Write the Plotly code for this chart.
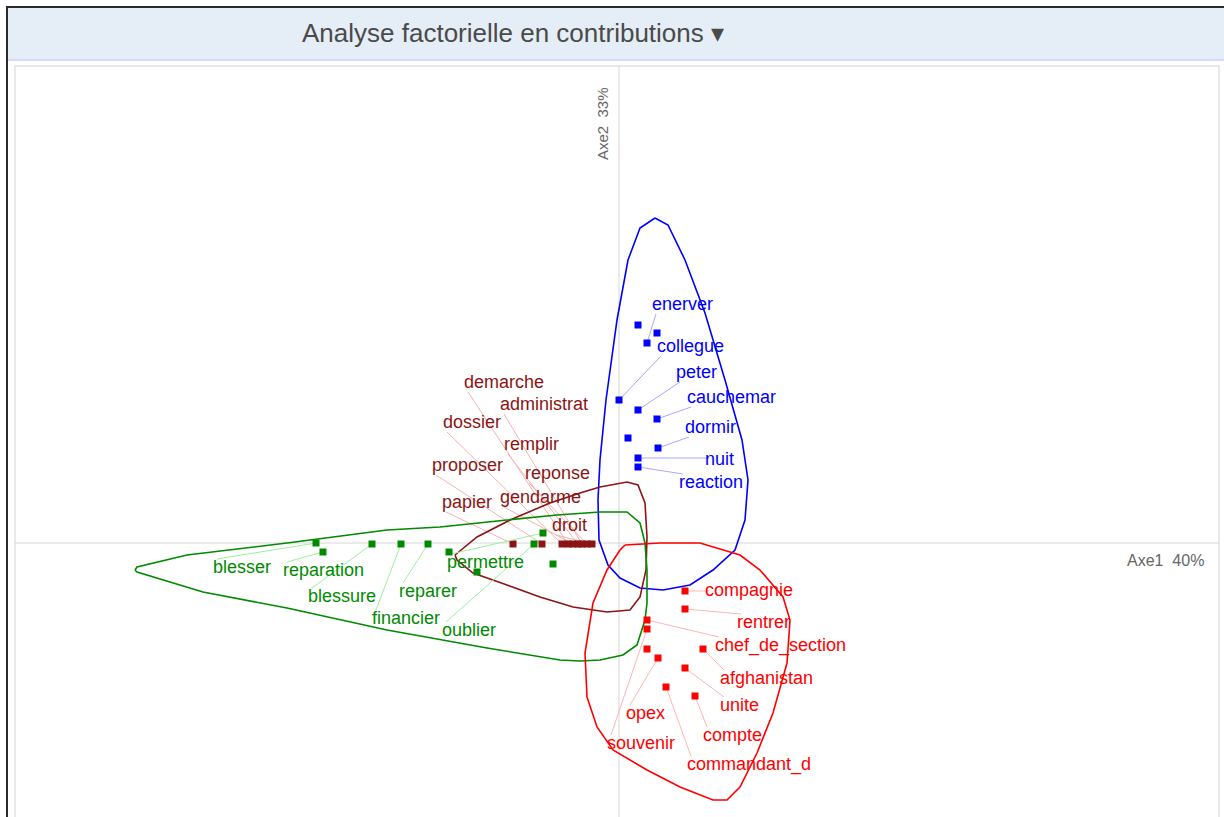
import plotly.graph_objects as go

# factor coordinates (Axe1, Axe2)
blue_words = ["enerver", "collegue", "peter", "cauchemar", "dormir", "nuit", "reaction"]
blue_x = [0.28, 0.00, 0.19, 0.38, 0.39, 0.19, 0.19]
blue_y = [2.00, 1.43, 1.33, 1.24, 0.95, 0.85, 0.76]
blue_extra_x = [0.19, 0.38, 0.09]
blue_extra_y = [2.18, 2.10, 1.05]
blue_lab_x = [0.33, 0.38, 0.57, 0.68, 0.66, 0.86, 0.60]
blue_lab_y = [2.38, 1.96, 1.70, 1.45, 1.15, 0.83, 0.60]
blue_hull_x = [0.36, 0.49, 0.66, 0.86, 1.06, 1.23, 1.29, 1.26, 1.16, 0.94, 0.71, 0.44, 0.21,
               0.01, -0.11, -0.20, -0.21, -0.19, -0.13, -0.02, 0.09, 0.21, 0.36]
blue_hull_y = [3.25, 3.18, 2.83, 2.30, 1.63, 1.03, 0.63, 0.23, -0.07, -0.27, -0.42, -0.47, -0.45,
               -0.35, -0.22, 0.03, 0.43, 0.83, 1.43, 2.23, 2.83, 3.15, 3.25]

brown_words = ["papier", "proposer", "dossier", "demarche", "gendarme", "remplir",
               "administrat", "reponse", "droit"]
brown_x = [-1.06, -0.77, -0.57, -0.51, -0.46, -0.41, -0.37, -0.32, -0.27]
brown_y = [-0.01] * 9
brown_lab_x = [-1.77, -1.87, -1.76, -1.55, -1.19, -1.15, -1.19, -0.94, -0.67]
brown_lab_y = [0.40, 0.77, 1.20, 1.60, 0.45, 0.98, 1.38, 0.69, 0.17]
brown_hull_x = [-1.64, -1.42, -1.09, -0.69, -0.39, -0.19, 0.08, 0.19, 0.26, 0.28, 0.27, 0.21,
                0.11, -0.12, -0.46, -0.79, -1.12, -1.46, -1.62, -1.64]
brown_hull_y = [-0.12, 0.06, 0.23, 0.40, 0.50, 0.56, 0.61, 0.58, 0.40, 0.06, -0.27, -0.54,
                -0.67, -0.69, -0.64, -0.54, -0.42, -0.30, -0.17, -0.12]

green_words = ["blesser", "reparation", "blessure", "financier", "reparer", "oublier", "permettre"]
green_x = [-3.03, -2.96, -2.47, -2.18, -1.91, -0.85, -0.76]
green_y = [0.00, -0.09, -0.01, -0.01, -0.01, -0.01, 0.10]
green_extra_x = [-1.70, -1.42, -0.66]
green_extra_y = [-0.09, -0.29, -0.21]
green_lab_x = [-4.06, -3.36, -3.11, -2.47, -2.20, -1.77, -1.72]
green_lab_y = [-0.25, -0.28, -0.54, -0.76, -0.49, -0.88, -0.20]
green_hull_x = [-4.84, -4.82, -4.32, -3.32, -2.32, -1.79, -1.12, -0.62, -0.19, 0.08, 0.21, 0.26,
                0.28, 0.28, 0.26, 0.18, 0.04, -0.19, -0.39, -0.59, -1.32, -2.32, -3.32, -4.16,
                -4.82, -4.84]
green_hull_y = [-0.27, -0.24, -0.12, 0.00, 0.13, 0.16, 0.23, 0.28, 0.31, 0.31, 0.20, 0.00,
                -0.27, -0.60, -0.77, -1.02, -1.12, -1.17, -1.18, -1.17, -1.05, -0.87, -0.65,
                -0.49, -0.29, -0.27]

red_words = ["compagnie", "rentrer", "chef_de_section", "afghanistan", "unite", "compte",
             "commandant_d", "opex", "souvenir"]
red_x = [0.66, 0.66, 0.28, 0.84, 0.66, 0.76, 0.47, 0.39, 0.28]
red_y = [-0.48, -0.66, -0.77, -1.06, -1.25, -1.53, -1.44, -1.15, -0.86]
red_extra_x = [0.28]
red_extra_y = [-1.06]
red_lab_x = [0.86, 1.18, 0.96, 1.01, 1.01, 0.84, 0.68, 0.07, -0.12]
red_lab_y = [-0.48, -0.80, -1.03, -1.36, -1.63, -1.93, -2.22, -1.71, -2.01]
red_hull_x = [0.06, 0.41, 0.81, 1.21, 1.41, 1.64, 1.71, 1.68, 1.54, 1.38, 1.21, 1.08, 0.94,
              0.61, 0.28, -0.06, -0.22, -0.32, -0.34, -0.26, -0.12, 0.01, 0.06]
red_hull_y = [-0.02, 0.00, 0.00, -0.12, -0.27, -0.54, -0.77, -1.20, -1.70, -2.10, -2.44,
              -2.57, -2.57, -2.44, -2.27, -2.07, -1.84, -1.54, -1.10, -0.60, -0.27, -0.07, -0.02]

FONT = "Liberation Sans"
W, H = 1224, 817
X_RANGE = [-6.19, 6.05]
Y_RANGE = [-2.74, 5.43]


def leader_segments(px, py, lx, ly, words):
    # leader goes from the point to the left edge of its label
    xs, ys = [], []
    for x, y, tx, ty in zip(px, py, lx, ly):
        ex = tx + 0.04
        ey = min(max(y, ty - 0.09), ty + 0.09)
        xs += [x, ex, None]
        ys += [y, ey, None]
    return xs, ys


groups = [
    (blue_words, blue_x, blue_y, blue_extra_x, blue_extra_y, blue_lab_x, blue_lab_y,
     blue_hull_x, blue_hull_y, "#0000ff", "#a8a8ff"),
    (brown_words, brown_x, brown_y, [], [], brown_lab_x, brown_lab_y,
     brown_hull_x, brown_hull_y, "#8b1414", "#f6b0b0"),
    (green_words, green_x, green_y, green_extra_x, green_extra_y, green_lab_x, green_lab_y,
     green_hull_x, green_hull_y, "#008a00", "#9cef9c"),
    (red_words, red_x, red_y, red_extra_x, red_extra_y, red_lab_x, red_lab_y,
     red_hull_x, red_hull_y, "#ff0000", "#ffb4b4"),
]

fig = go.Figure()

for words, px, py, ex, ey, lx, ly, hx, hy, col, light in groups:
    sx, sy = leader_segments(px, py, lx, ly, words)
    fig.add_trace(go.Scatter(x=sx, y=sy, mode="lines", line=dict(color=light, width=1),
                             hoverinfo="skip", showlegend=False))
    fig.add_trace(go.Scatter(x=hx, y=hy, mode="lines", line=dict(color=col, width=1.6),
                             hoverinfo="skip", showlegend=False))
    fig.add_trace(go.Scatter(x=list(px) + list(ex), y=list(py) + list(ey), mode="markers",
                             marker=dict(symbol="square", size=7, color=col),
                             showlegend=False))
    fig.add_trace(go.Scatter(x=lx, y=ly, mode="text", text=words, textposition="middle right",
                             textfont=dict(family=FONT, size=18, color=col),
                             hoverinfo="skip", showlegend=False))


def px_x(p):
    return p / W


def px_y(p):
    return 1 - p / H


shapes = [
    # header band and outer frame lines
    dict(type="rect", xref="paper", yref="paper", x0=px_x(8), x1=1, y0=px_y(60), y1=px_y(8),
         line=dict(width=0), fillcolor="#e5eef6", layer="below"),
    dict(type="line", xref="paper", yref="paper", x0=px_x(6), x1=1, y0=px_y(7), y1=px_y(7),
         line=dict(color="#2a2a2a", width=2), layer="below"),
    dict(type="line", xref="paper", yref="paper", x0=px_x(7), x1=px_x(7), y0=0, y1=px_y(7),
         line=dict(color="#2a2a2a", width=2), layer="below"),
    dict(type="line", xref="paper", yref="paper", x0=px_x(8), x1=1, y0=px_y(60), y1=px_y(60),
         line=dict(color="#d8d8ff", width=2), layer="below"),
    dict(type="rect", xref="paper", yref="paper", x0=px_x(15), x1=px_x(1219), y0=-0.01,
         y1=px_y(66), line=dict(color="#e2e2e2", width=1.5), fillcolor="white", layer="below"),
    # factor axes
    dict(type="line", xref="x", yref="paper", x0=0, x1=0, y0=0, y1=px_y(66),
         line=dict(color="#d6d6d6", width=1), layer="below"),
    dict(type="line", xref="paper", yref="y", x0=px_x(15), x1=px_x(1219), y0=0, y1=0,
         line=dict(color="#d6d6d6", width=1), layer="below"),
]

annotations = [
    dict(text="Analyse factorielle en contributions \u25BE", xref="paper", yref="paper",
         x=px_x(513), y=px_y(33), xanchor="center", yanchor="middle", showarrow=False,
         font=dict(family=FONT, size=26, color="#4a4a4a")),
    dict(text="Axe2  33%", xref="paper", yref="paper", x=px_x(603), y=px_y(124),
         xanchor="center", yanchor="middle", textangle=-90, showarrow=False,
         font=dict(family=FONT, size=15, color="#666666")),
    dict(text="Axe1  40%", xref="paper", yref="paper", x=px_x(1165), y=px_y(560),
         xanchor="center", yanchor="middle", showarrow=False,
         font=dict(family=FONT, size=16, color="#666666")),
]

fig.update_layout(
    width=W, height=H,
    margin=dict(l=0, r=0, t=0, b=0),
    paper_bgcolor="white", plot_bgcolor="rgba(0,0,0,0)",
    xaxis=dict(range=X_RANGE, visible=False, fixedrange=True),
    yaxis=dict(range=Y_RANGE, visible=False, fixedrange=True),
    shapes=shapes, annotations=annotations,
)

fig.write_html("out.html", config={"displayModeBar": False},
               post_script="document.body.style.margin='0px';")
